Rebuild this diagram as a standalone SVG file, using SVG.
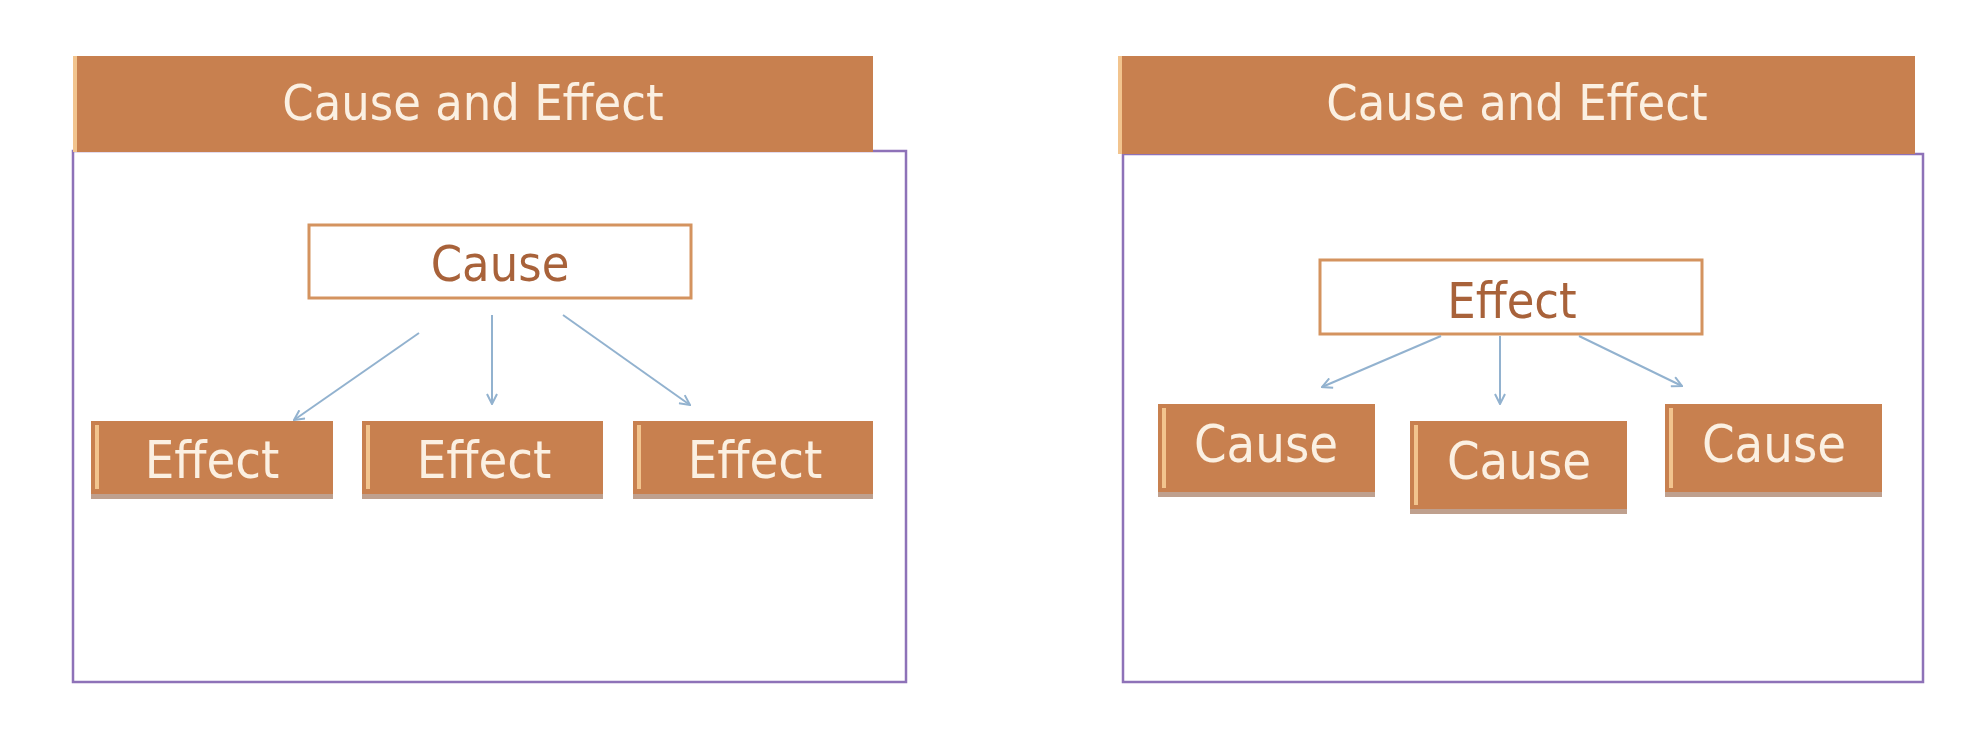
<svg xmlns="http://www.w3.org/2000/svg" width="1978" height="746" viewBox="0 0 1978 746">
<defs>
<style>
.hdr{fill:#c8804f}
.stripe{fill:#f2c48e}
.shadow{fill:#8a5232;opacity:0.55}
.frame{fill:#fff;stroke:#8e72b8;stroke-width:2.5}
.wbox{fill:#fff;stroke:#d4935f;stroke-width:3}
.lt{font-family:"DejaVu Sans Condensed","DejaVu Sans",sans-serif;fill:#fbf0e2;text-anchor:middle}
.dt{font-family:"DejaVu Sans Condensed","DejaVu Sans",sans-serif;fill:#a8623a;text-anchor:middle}
.arr{stroke:#92b2cf;stroke-width:2;fill:none;marker-end:url(#ah)}
</style>
<marker id="ah" viewBox="0 0 12 12" refX="11" refY="6" markerWidth="12" markerHeight="12" markerUnits="userSpaceOnUse" orient="auto"><path d="M1,1 L11,6 L1,11" fill="none" stroke="#92b2cf" stroke-width="2"/></marker>
</defs>
<rect width="1978" height="746" fill="#fff"/>
<g id="left-frame"><rect class="frame" x="73" y="151" width="833" height="531"/></g>
<g id="left-header"><rect class="hdr" x="73" y="56" width="800" height="96"/><rect class="stripe" x="73" y="56" width="4" height="96"/><text class="lt" x="473" y="120" font-size="50">Cause and Effect</text></g>
<g id="left-cause"><rect class="wbox" x="309" y="225" width="382" height="73"/><text class="dt" x="500" y="281" font-size="50">Cause</text></g>
<g id="left-effect1"><rect class="shadow" x="91" y="493" width="242" height="6"/><rect class="hdr" x="91" y="421" width="242" height="73"/><rect class="stripe" x="95" y="425" width="4" height="64"/><text class="lt" x="212" y="478" font-size="52">Effect</text></g>
<g id="left-effect2"><rect class="shadow" x="362" y="493" width="241" height="6"/><rect class="hdr" x="362" y="421" width="241" height="73"/><rect class="stripe" x="366" y="425" width="4" height="64"/><text class="lt" x="484" y="478" font-size="52">Effect</text></g>
<g id="left-effect3"><rect class="shadow" x="633" y="493" width="240" height="6"/><rect class="hdr" x="633" y="421" width="240" height="73"/><rect class="stripe" x="637" y="425" width="4" height="64"/><text class="lt" x="755" y="478" font-size="52">Effect</text></g>
<g id="right-frame"><rect class="frame" x="1123" y="154" width="800" height="528"/></g>
<g id="right-header"><rect class="hdr" x="1118" y="56" width="797" height="98"/><rect class="stripe" x="1118" y="56" width="4" height="98"/><text class="lt" x="1517" y="120" font-size="50">Cause and Effect</text></g>
<g id="right-effect"><rect class="wbox" x="1320" y="260" width="382" height="74"/><text class="dt" x="1512" y="318" font-size="50">Effect</text></g>
<g id="right-cause1"><rect class="shadow" x="1158" y="491" width="217" height="6"/><rect class="hdr" x="1158" y="404" width="217" height="88"/><rect class="stripe" x="1162" y="408" width="4" height="80"/><text class="lt" x="1266" y="462" font-size="52">Cause</text></g>
<g id="right-cause2"><rect class="shadow" x="1410" y="508" width="217" height="6"/><rect class="hdr" x="1410" y="421" width="217" height="88"/><rect class="stripe" x="1414" y="425" width="4" height="80"/><text class="lt" x="1519" y="479" font-size="52">Cause</text></g>
<g id="right-cause3"><rect class="shadow" x="1665" y="491" width="217" height="6"/><rect class="hdr" x="1665" y="404" width="217" height="88"/><rect class="stripe" x="1669" y="408" width="4" height="80"/><text class="lt" x="1774" y="462" font-size="52">Cause</text></g>
<g id="connectors">
<line class="arr" x1="419" y1="333" x2="294" y2="420"/>
<line class="arr" x1="492" y1="315" x2="492" y2="404"/>
<line class="arr" x1="563" y1="315" x2="690" y2="405"/>
<line class="arr" x1="1441" y1="336" x2="1322" y2="387"/>
<line class="arr" x1="1500" y1="336" x2="1500" y2="404"/>
<line class="arr" x1="1579" y1="336" x2="1682" y2="386"/>
</g>
</svg>
